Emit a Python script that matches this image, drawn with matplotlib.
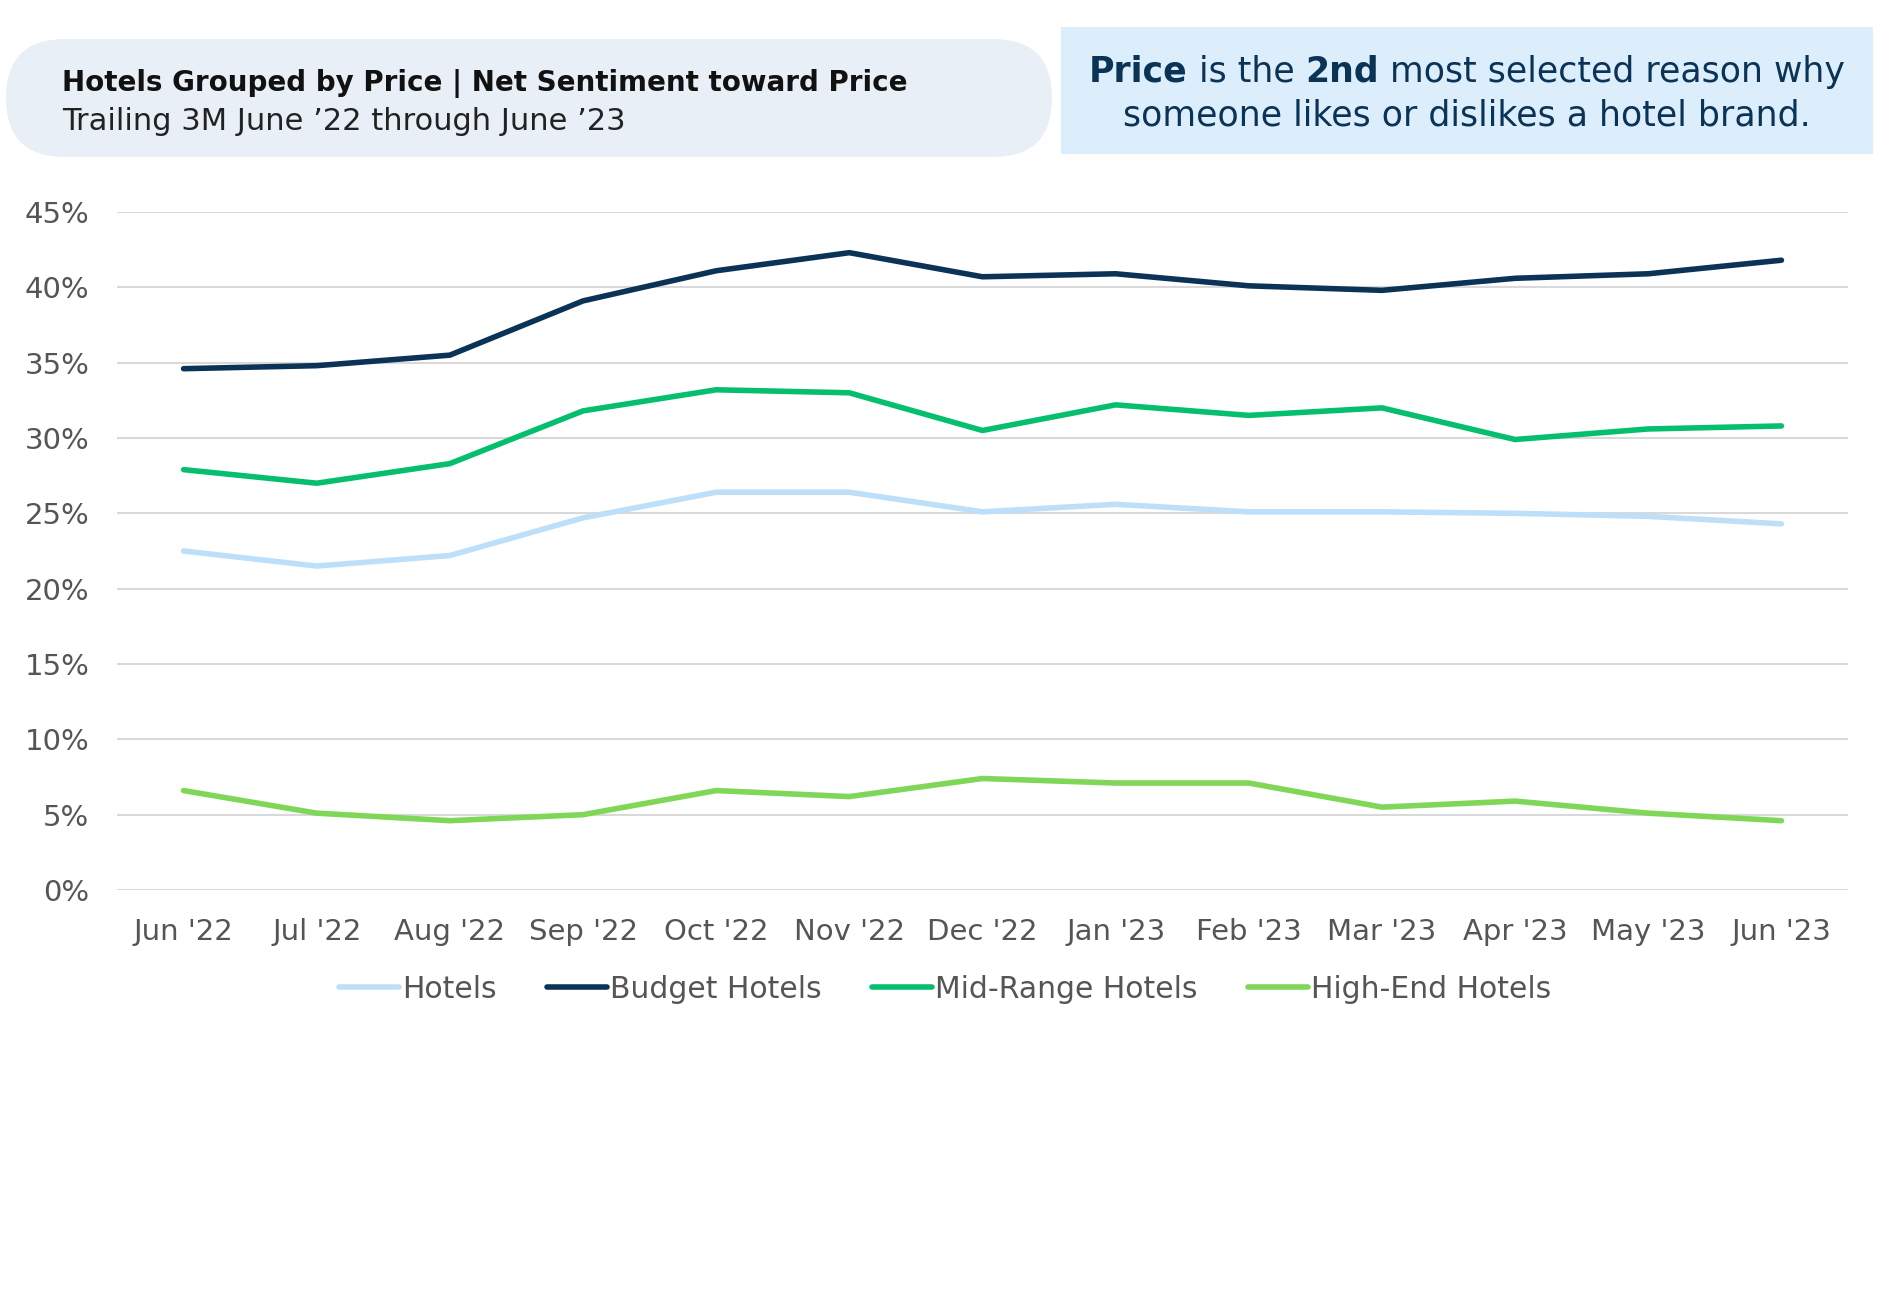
import matplotlib.pyplot as plt
from matplotlib.patches import FancyBboxPatch, Rectangle
from matplotlib.lines import Line2D

plt.rcParams['font.family'] = ['DejaVu Sans']

months = ["Jun '22", "Jul '22", "Aug '22", "Sep '22", "Oct '22", "Nov '22", "Dec '22",
          "Jan '23", "Feb '23", "Mar '23", "Apr '23", "May '23", "Jun '23"]
hotels = [22.5, 21.5, 22.2, 24.7, 26.4, 26.4, 25.1, 25.6, 25.1, 25.1, 25.0, 24.8, 24.3]
budget = [34.6, 34.8, 35.5, 39.1, 41.1, 42.3, 40.7, 40.9, 40.1, 39.8, 40.6, 40.9, 41.8]
mid_range = [27.9, 27.0, 28.3, 31.8, 33.2, 33.0, 30.5, 32.2, 31.5, 32.0, 29.9, 30.6, 30.8]
high_end = [6.6, 5.1, 4.6, 5.0, 6.6, 6.2, 7.4, 7.1, 7.1, 5.5, 5.9, 5.1, 4.6]
yticks = [0, 5, 10, 15, 20, 25, 30, 35, 40, 45]

series = [("Hotels", hotels, '#bddff9'),
          ("Budget Hotels", budget, '#0b3356'),
          ("Mid-Range Hotels", mid_range, '#05bf6e'),
          ("High-End Hotels", high_end, '#7fd657')]

W, H = 1891, 1294
fig = plt.figure(figsize=(W / 100, H / 100), dpi=100)

# background layer in pixel coordinates for the boxes
bg = fig.add_axes([0, 0, 1, 1])
bg.set_xlim(0, W)
bg.set_ylim(H, 0)
bg.axis('off')

bg.add_patch(FancyBboxPatch((6, 39), 1046, 118,
                            boxstyle="round,pad=0,rounding_size=59",
                            fc='#e8eff6', ec='none'))
bg.text(62, 84, "Hotels Grouped by Price | Net Sentiment toward Price",
        fontsize=20, fontweight='bold', color='#111111', va='center')
bg.text(62, 121, "Trailing 3M June \u201922 through June \u201923",
        fontsize=22, color='#222222', va='center')

bg.add_patch(Rectangle((1061, 27), 812, 127, fc='#dceefb', ec='none'))

# callout with mixed bold pieces, centered
navy = '#0b3356'
lines = [[("Price", 'bold'), (" is the ", 'normal'), ("2nd", 'bold'),
          (" most selected reason why", 'normal')],
         [("someone likes or dislikes a hotel brand.", 'normal')]]
renderer = fig.canvas.get_renderer()
cx = 1467
for i, pieces in enumerate(lines):
    y = 72 + i * 43
    texts = []
    total = 0
    for s, w in pieces:
        t = bg.text(0, y, s, fontsize=25, fontweight=w, color=navy, va='center')
        bb = t.get_window_extent(renderer)
        texts.append((t, bb.width))
        total += bb.width
    x = cx - total / 2
    for t, wdt in texts:
        t.set_x(x)
        x += wdt

ax = fig.add_axes([117 / W, 1 - 890 / H, (1848 - 117) / W, (890 - 212) / H])
x = list(range(len(months)))
for name, vals, col in series:
    ax.plot(x, vals, color=col, lw=4, label=name, solid_capstyle='round')

ax.set_ylim(0, 45)
ax.set_xlim(-0.5, 12.5)
ax.set_yticks(yticks)
ax.set_yticklabels([f"{v}%" for v in yticks])
ax.set_xticks(x)
ax.set_xticklabels(months)
ax.grid(axis='y', color='#d9d9d9', lw=1.5)
ax.set_axisbelow(True)
for sp in ax.spines.values():
    sp.set_visible(False)
ax.tick_params(length=0, labelsize=21, labelcolor='#555555')
ax.tick_params(axis='y', pad=20)
ax.tick_params(axis='x', pad=20)

handles = [Line2D([], [], color=c, lw=4, solid_capstyle='round') for _, _, c in series]
fig.legend(handles, [n for n, _, _ in series], loc='center', ncol=4,
           bbox_to_anchor=(945 / W, 1 - 989 / H), frameon=False,
           fontsize=21.5, labelcolor='#555555', handlelength=2.0,
           handletextpad=0.1, columnspacing=1.7)

fig.savefig('out.png', dpi=100)
